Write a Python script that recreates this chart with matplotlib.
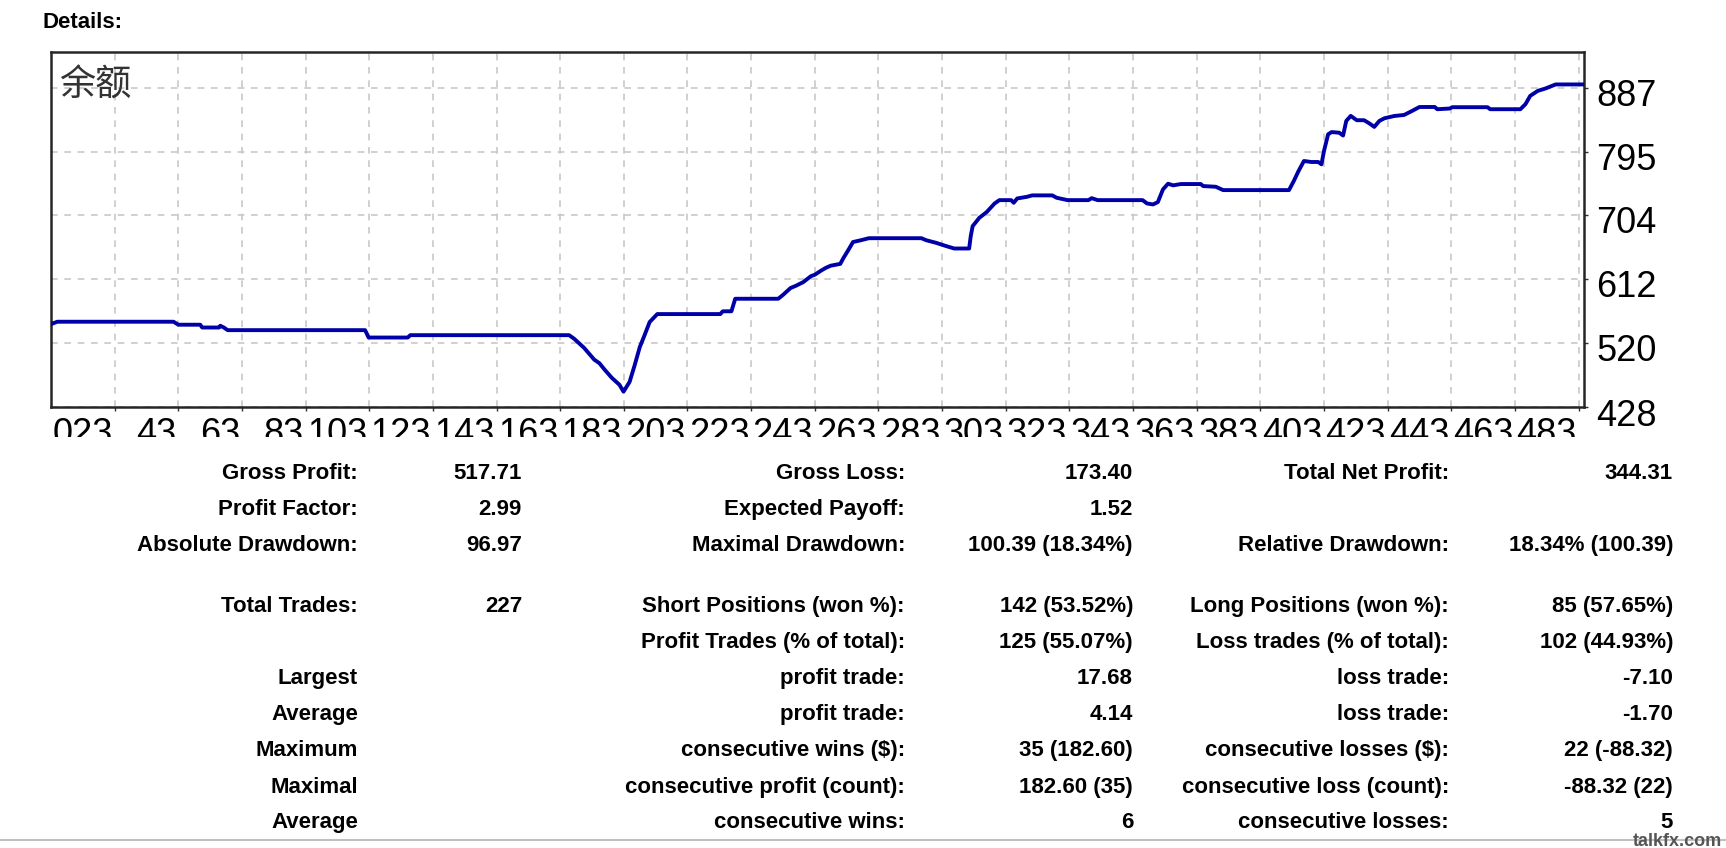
import matplotlib.pyplot as plt
from matplotlib.patches import Rectangle
from matplotlib.transforms import ScaledTranslation

# balance curve
trade_no = [3, 5, 41.5, 43, 49.9, 50.5, 55.8, 56.2, 57.3, 58.5, 101.7, 102.8, 115.1, 115.9,
            165.8, 167.4, 170.5, 173.7, 175.3, 176.9, 179.2, 181.6, 182.9, 184.8, 186.4, 188,
            189.5, 191.1, 193.5, 213.3, 214.1, 216.8, 218, 231.5, 233, 235.4, 237, 239.4, 241.8,
            243, 245, 246.5, 248, 251, 252, 253.6, 255, 257.5, 260, 276.5, 278, 281, 284.4,
            286.8, 291.5, 292, 292.6, 294.7, 297, 299.5, 301, 304.7, 305.5, 306.6, 309.7, 311.3,
            317.6, 319, 322.4, 329, 330, 331.9, 346, 347.4, 349.3, 350.8, 352.4, 354, 355.6, 358,
            364.3, 365, 369, 371.3, 392, 393.5, 395, 396.7, 399, 401.2, 402.2, 403, 404.3, 405.4,
            407.8, 409, 410, 411.4, 413.3, 415.6, 417.2, 418.8, 420.4, 422, 425, 428.2, 430.7,
            433, 437.8, 438.6, 442.5, 443.3, 454.4, 455.2, 464.7, 466.3, 467.8, 470.2, 472.6,
            475.8, 484.7]
balance = [547.1, 550.5, 550.5, 546.2, 546.2, 542.2, 542.2, 544.7, 542.2, 538.4, 538.4, 527.8, 527.8, 531.2,
           531.2, 526, 513, 496, 491, 482, 470, 460, 450.1, 464, 488, 514,
           531, 550, 561.5, 561.5, 565.5, 565.5, 583.5, 583.5, 589, 599, 602, 607.5, 616,
           618, 624, 628, 631, 633.6, 642, 654, 665, 667.6, 670.5, 670.5, 667.6, 664, 659,
           655.7, 655.7, 673.4, 687.8, 699.8, 708, 720.4, 725.2, 725.2, 721.4, 727.6, 730, 732,
           732, 728.6, 725.2, 725.2, 728, 725.2, 725.2, 720.4, 719, 722.4, 740.6, 748.8, 746.4, 748.3,
           748.3, 745.4, 744.4, 739.6, 739.6, 752.6, 767, 781.4, 780, 780, 776.6, 795.8, 819.8, 823,
           822, 818, 839, 846.2, 840, 840, 835.6, 830.4, 839, 842.8, 846, 847.6, 853.4,
           859, 859, 855.8, 856.8, 858.7, 858.7, 855.8, 855.8, 863, 875, 882.2, 885.6,
           891.4, 891.4]
assert len(trade_no) == len(balance)

x_ticks = list(range(23, 484, 20))
x_tick_labels = ["023", "43", "63", "83", "103", "123", "143", "163", "183", "203", "223", "243",
                 "263", "283", "303", "323", "343", "363", "383", "403", "423", "443", "463", "483"]
y_ticks = [428, 520, 612, 704, 795, 887]
y_tick_labels = ["428", "520", "612", "704", "795", "887"]

# report table: (label, value) per column, one row per line
col1 = [("Gross Profit:", "517.71"), ("Profit Factor:", "2.99"), ("Absolute Drawdown:", "96.97"),
        ("Total Trades:", "227"), ("", ""), ("Largest", ""), ("Average", ""),
        ("Maximum", ""), ("Maximal", ""), ("Average", "")]
col2 = [("Gross Loss:", "173.40"), ("Expected Payoff:", "1.52"), ("Maximal Drawdown:", "100.39 (18.34%)"),
        ("Short Positions (won %):", "142 (53.52%)"), ("Profit Trades (% of total):", "125 (55.07%)"),
        ("profit trade:", "17.68"), ("profit trade:", "4.14"), ("consecutive wins ($):", "35 (182.60)"),
        ("consecutive profit (count):", "182.60 (35)"), ("consecutive wins:", "6")]
col3 = [("Total Net Profit:", "344.31"), ("", ""), ("Relative Drawdown:", "18.34% (100.39)"),
        ("Long Positions (won %):", "85 (57.65%)"), ("Loss trades (% of total):", "102 (44.93%)"),
        ("loss trade:", "-7.10"), ("loss trade:", "-1.70"), ("consecutive losses ($):", "22 (-88.32)"),
        ("consecutive loss (count):", "-88.32 (22)"), ("consecutive losses:", "5")]
row_y = [471, 507, 543, 604, 640, 676, 712, 748, 785, 820]

W, H = 1726, 848
fig = plt.figure(figsize=(W / 100, H / 100), dpi=100)

left, right, top, bottom = 51, 1584, 52, 407
ax = fig.add_axes([left / W, 1 - bottom / H, (right - left) / W, (bottom - top) / H])
ax.plot(trade_no, balance, color="#0000a8", lw=2.8, zorder=3)
ax.set_xlim(3, 484.7)
ax.set_ylim(428, 938)

ax.set_xticks(x_ticks)
ax.set_xticklabels(x_tick_labels, ha="right")
ax.set_yticks(y_ticks)
ax.set_yticklabels(y_tick_labels, va="center")
ax.yaxis.tick_right()
ax.tick_params(axis="both", length=3, width=1, color="#303030",
               labelsize=26, labelcolor="black")
ax.tick_params(axis="x", pad=4)
ax.tick_params(axis="y", pad=6)
for lbl in ax.get_xticklabels() + ax.get_yticklabels():
    lbl.set_family(["Liberation Sans", "DejaVu Sans"])
for lbl in ax.get_xticklabels():
    lbl.set_transform(lbl.get_transform() + ScaledTranslation(-0.02, 0, fig.dpi_scale_trans))
for lbl in ax.get_yticklabels():
    lbl.set_transform(lbl.get_transform() + ScaledTranslation(0, -0.09, fig.dpi_scale_trans))

ax.grid(True, color="#c8c8c8", linestyle=(0, (4, 4)), linewidth=1.2)
for s in ax.spines.values():
    s.set_color("#262626")
    s.set_linewidth(1.8)

ax.text(0.005, 0.905, "余额", transform=ax.transAxes, fontsize=26,
        family=["Noto Sans CJK SC", "DejaVu Sans"], color="#333333", va="center", ha="left")

# the table covers the lower part of the x labels
fig.add_artist(Rectangle((0, 0), 1, 1 - 437 / H, transform=fig.transFigure,
                         facecolor="white", edgecolor="none", zorder=1))

bold = dict(fontsize=16, fontweight="bold", family=["Liberation Sans", "DejaVu Sans"],
            va="baseline", ha="right", zorder=4)
fig.text(42 / W, 1 - 28 / H, "Details:", **{**bold, "ha": "left"})

cols = [(col1, 358, 522), (col2, 905, 1133), (col3, 1449, 1673)]
for items, lab_x, val_x in cols:
    for (lab, val), y in zip(items, row_y):
        fig.text(lab_x / W, 1 - (y + 8) / H, lab, **bold)
        fig.text(val_x / W, 1 - (y + 8) / H, val, **bold)

fig.add_artist(plt.Line2D([0, 1], [1 - 840 / H] * 2, transform=fig.transFigure,
                          color="#c0c0c0", lw=1.5, zorder=2))
fig.text(1722 / W, 1 - 846 / H, "talkfx.com", fontsize=13, fontweight="bold",
         family=["Liberation Sans", "DejaVu Sans"], color="#555555",
         ha="right", va="baseline", zorder=3)

fig.savefig("out.png", dpi=100, facecolor="white")
